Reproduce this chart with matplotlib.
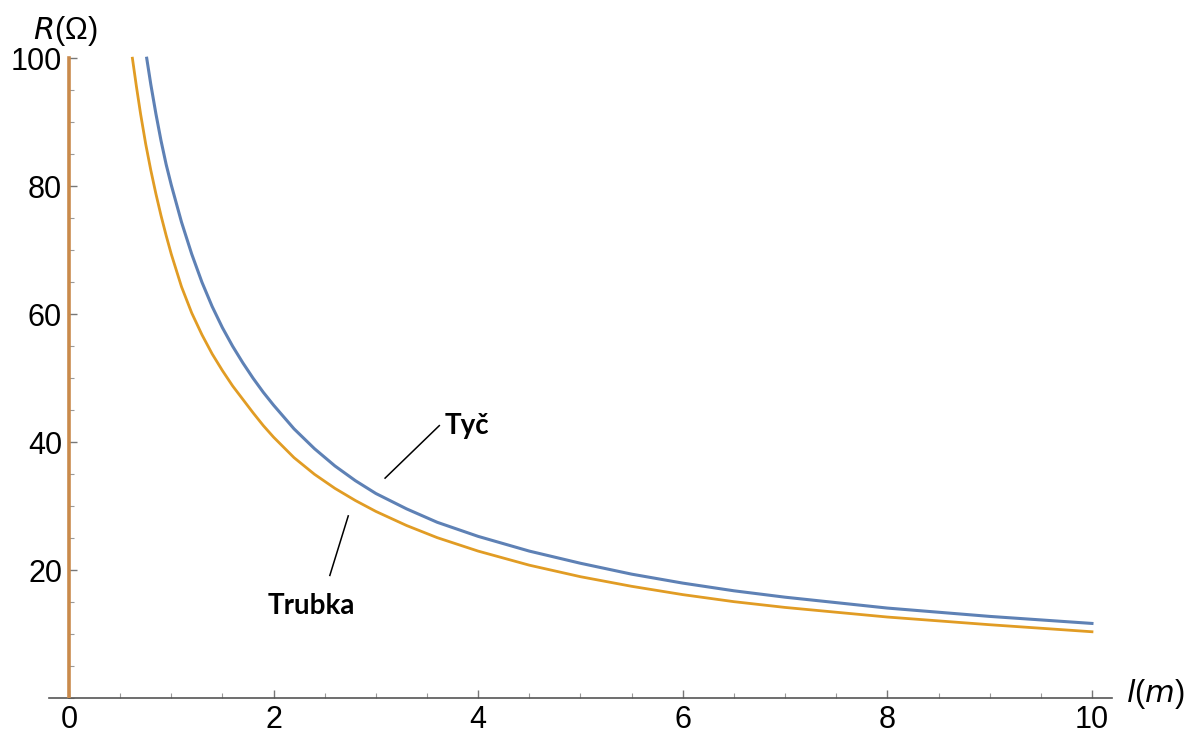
"""Resistance vs. length for a rod (Tyč) and a tube (Trubka)"""

import matplotlib.pyplot as plt
from matplotlib.ticker import MultipleLocator

# Rod (Tyč)
l_tyc = [0.76, 0.8, 0.85, 0.9, 0.95, 1.0, 1.1, 1.2, 1.3, 1.4, 1.5, 1.6, 1.7,
         1.8, 1.9, 2.0, 2.2, 2.4, 2.6, 2.8, 3.0, 3.3, 3.6, 4.0, 4.5, 5.0,
         5.5, 6.0, 6.5, 7.0, 8.0, 9.0, 10.0]
r_tyc = [100, 95.9, 91.3, 87.1, 83.4, 80.2, 74.4, 69.4, 65.0, 61.2, 57.9, 55.0, 52.4,
         50.0, 47.8, 45.8, 42.1, 39.0, 36.3, 34.0, 32.0, 29.6, 27.5, 25.3, 23.0, 21.1,
         19.4, 18.0, 16.8, 15.8, 14.1, 12.8, 11.7]

# Tube (Trubka)
l_trubka = [0.62, 0.66, 0.7, 0.75, 0.8, 0.85, 0.9, 0.95, 1.0, 1.1, 1.2, 1.3, 1.4,
            1.5, 1.6, 1.7, 1.8, 1.9, 2.0, 2.2, 2.4, 2.6, 2.8, 3.0, 3.3, 3.6,
            4.0, 4.5, 5.0, 5.5, 6.0, 6.5, 7.0, 8.0, 9.0, 10.0]
r_trubka = [100, 95.5, 91.3, 86.6, 82.5, 78.8, 75.4, 72.3, 69.4, 64.3, 60.2, 56.8, 53.8,
            51.2, 48.8, 46.7, 44.6, 42.6, 40.8, 37.6, 35.0, 32.8, 30.9, 29.2, 27.0, 25.1,
            23.0, 20.8, 19.0, 17.5, 16.2, 15.1, 14.2, 12.7, 11.5, 10.4]

# vertical branch of the tube curve at l = 0
l_wall = [0, 0]
r_wall = [0, 100]

BLUE = "#5e81b5"
ORANGE = "#e19c24"

fig = plt.figure(figsize=(11.89, 7.33), dpi=100)
ax = fig.add_axes([0.0408, 0.0473, 0.8948, 0.8759])

ax.plot(l_wall, r_wall, color="#c98a4b", linewidth=2.6, zorder=3)
ax.plot(l_tyc, r_tyc, color=BLUE, linewidth=2.2, zorder=4)
ax.plot(l_trubka, r_trubka, color=ORANGE, linewidth=2.0, zorder=4)

ax.set_xlim(-0.2, 10.2)
ax.set_ylim(0, 100.3)

# axes through the origin, no frame
for side in ["top", "right"]:
    ax.spines[side].set_visible(False)
ax.spines["left"].set_position(("data", 0))
ax.spines["bottom"].set_position(("data", 0))
ax.spines["left"].set_bounds(0, 100)
for side in ["left", "bottom"]:
    ax.spines[side].set_color("#555555")
    ax.spines[side].set_linewidth(1.2)

ax.xaxis.set_major_locator(MultipleLocator(2))
ax.xaxis.set_minor_locator(MultipleLocator(0.5))
ax.yaxis.set_major_locator(MultipleLocator(20))
ax.yaxis.set_minor_locator(MultipleLocator(5))
ax.set_yticks([20, 40, 60, 80, 100])
ax.tick_params(which="major", direction="in", length=6, width=1, color="#777777",
               labelsize=22, pad=5)
ax.tick_params(which="minor", direction="in", length=3.5, width=0.8, color="#999999")
for lbl in ax.get_xticklabels() + ax.get_yticklabels():
    lbl.set_fontfamily("Liberation Sans")

# axis labels at the ends of the axes
ax.text(-0.04, 104.2, r"$R$(Ω)", fontsize=22, family="Liberation Sans",
        ha="center", va="center")
ax.text(10.33, 0.6, r"$l$($m$)", fontsize=22, family="Liberation Sans",
        ha="left", va="center")

# curve labels with leader lines
ax.plot([3.09, 3.62], [34.4, 42.6], color="black", linewidth=1.1)
ax.text(3.67, 42.6, "Tyč", fontsize=20, fontweight="bold", family="Lato",
        ha="left", va="center")
ax.plot([2.55, 2.73], [19.2, 28.5], color="black", linewidth=1.1)
ax.text(1.94, 14.5, "Trubka", fontsize=20, fontweight="bold", family="Lato",
        ha="left", va="center")

fig.savefig("out.png", dpi=100)
plt.close()
